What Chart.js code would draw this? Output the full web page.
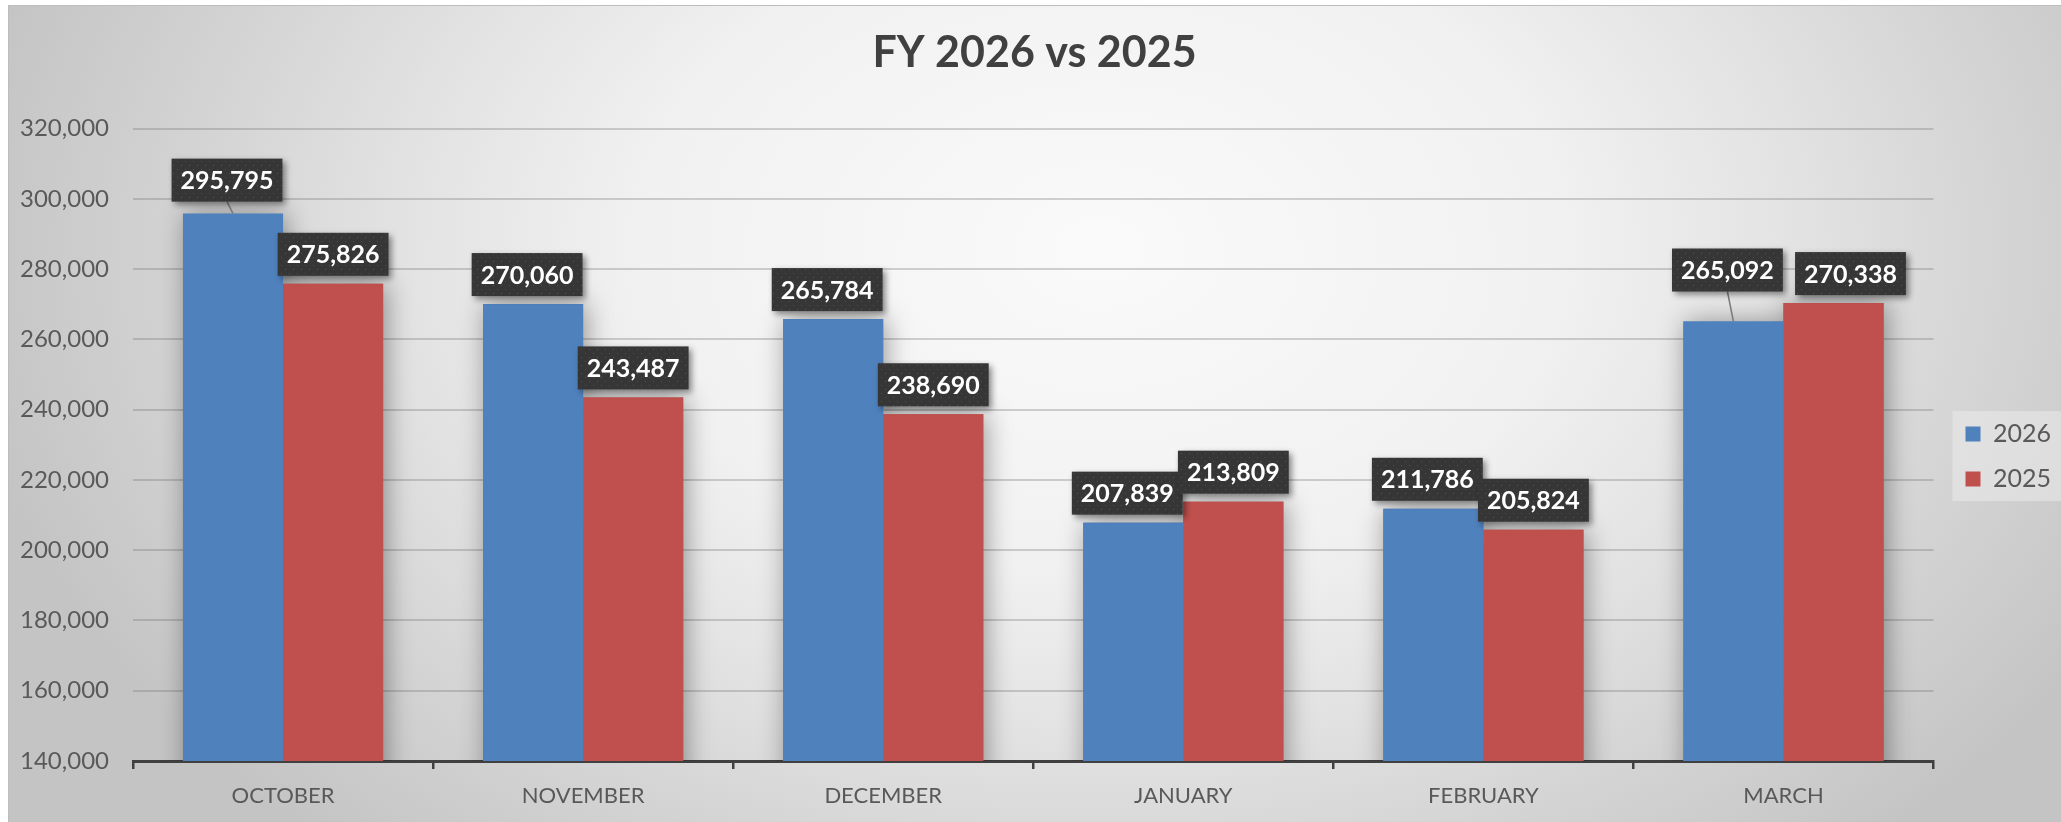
<!DOCTYPE html>
<html><head><meta charset="utf-8">
<script src="https://cdn.jsdelivr.net/npm/chart.js@4.4.1/dist/chart.umd.min.js"></script>
<style>html,body{margin:0;padding:0;background:#fff;overflow:hidden}#wrap{width:2061px;height:822px}</style>
</head><body><div id="wrap"><canvas id="c" width="2061" height="822"></canvas></div>
<script>
const categories = ['OCTOBER','NOVEMBER','DECEMBER','JANUARY','FEBRUARY','MARCH'];
const seriesNames = ['2026','2025'];
const values2026 = [295795,270060,265784,207839,211786,265092];
const values2025 = [275826,243487,238690,213809,205824,270338];
const yTickValues = [140000,160000,180000,200000,220000,240000,260000,280000,300000,320000];
const titleText = 'FY 2026 vs 2025';

const FONT = 'Lato';

// dotted pattern for label boxes
function makePattern(ctx){
  const p = document.createElement('canvas'); p.width = 8; p.height = 8;
  const g = p.getContext('2d');
  g.fillStyle = '#363636'; g.fillRect(0,0,8,8);
  g.fillStyle = 'rgba(255,255,255,0.13)';
  g.fillRect(1,1,1,1); g.fillRect(5,5,1,1);
  return ctx.createPattern(p,'repeat');
}

const bgPlugin = {
  id:'bg',
  beforeDraw(chart){
    const ctx = chart.ctx, W = chart.width, H = chart.height;
    ctx.save();
    ctx.fillStyle = '#fff'; ctx.fillRect(0,0,W,H);
    ctx.beginPath(); ctx.rect(8,5,W-8,H-5); ctx.clip();
    const cx = 1100, cy = 250, rx = 1150, ry = 800;
    ctx.translate(cx, cy); ctx.scale(1, ry/rx);
    const g = ctx.createRadialGradient(0,0,0,0,0,rx);
    g.addColorStop(0,'#fafafa'); g.addColorStop(0.4,'#f1f1f1'); g.addColorStop(0.6,'#e3e3e3');
    g.addColorStop(0.8,'#d3d3d3'); g.addColorStop(1,'#c4c4c4');
    ctx.fillStyle = g; ctx.fillRect(-3000,-3000,6000,6000);
    ctx.restore();
    ctx.save();
    ctx.strokeStyle = '#bdbdbd'; ctx.lineWidth = 1;
    ctx.strokeRect(8.5,5.5,W-8,H-5);
    // legend background
    const hb = chart.legend && chart.legend.legendHitBoxes;
    if (hb && hb.length){
      const first = hb[0], last = hb[hb.length-1];
      const top = first.top + first.height/2 - 23;
      const bottom = last.top + last.height/2 + 22;
      ctx.fillStyle = 'rgba(235,235,235,0.55)';
      ctx.fillRect(first.left - 13, top, W - (first.left - 13), bottom - top);
    }
    ctx.restore();
  }
};

const barShadowPlugin = {
  id:'barShadow',
  beforeDatasetsDraw(chart){
    const ctx = chart.ctx, a = chart.chartArea;
    ctx.save();
    ctx.beginPath(); ctx.rect(a.left, a.top - 40, a.right - a.left + 60, a.bottom - a.top + 40); ctx.clip();
    ctx.shadowColor = 'rgba(0,0,0,0.38)'; ctx.shadowBlur = 24; ctx.shadowOffsetX = 3; ctx.shadowOffsetY = 0;
    chart.data.datasets.forEach((ds, di) => {
      const meta = chart.getDatasetMeta(di);
      meta.data.forEach(el => {
        ctx.fillStyle = ds.backgroundColor;
        ctx.fillRect(el.x - el.width/2, el.y, el.width, el.base - el.y);
      });
    });
    ctx.restore();
  }
};

const valueBoxPlugin = {
  id:'valueBoxes',
  afterDatasetsDraw(chart, args, opts){
    const ctx = chart.ctx;
    if (!chart.$pattern) chart.$pattern = makePattern(ctx);
    ctx.save();
    ctx.font = `bold ${opts.size}px ${FONT}`;
    chart.data.datasets.forEach((ds, di) => {
      const meta = chart.getDatasetMeta(di);
      meta.data.forEach((bar, i) => {
        const text = ds.data[i].toLocaleString('en-US');
        const tw = ctx.measureText(text).width;
        const w = tw + 2*opts.padX, h = opts.height;
        const nd = (opts.nudges[di] && opts.nudges[di][i]) || [0,0];
        const cx = bar.x + opts.shift[di] + nd[0];
        const bottom = bar.y - opts.gap + nd[1];
        const top = bottom - h;
        if (bar.y - bottom > opts.gap + 2){
          ctx.save();
          ctx.strokeStyle = '#7a7a7a'; ctx.lineWidth = 1.5;
          ctx.beginPath(); ctx.moveTo(cx, bottom); ctx.lineTo(bar.x, bar.y); ctx.stroke();
          ctx.restore();
        }
        ctx.save();
        ctx.shadowColor = 'rgba(0,0,0,0.45)'; ctx.shadowBlur = 6; ctx.shadowOffsetX = 3; ctx.shadowOffsetY = 3;
        ctx.fillStyle = chart.$pattern;
        ctx.fillRect(cx - w/2, top, w, h);
        ctx.restore();
        ctx.fillStyle = '#ffffff'; ctx.textAlign = 'center'; ctx.textBaseline = 'middle';
        ctx.fillText(text, cx, top + h/2 + 1);
      });
    });
    ctx.restore();
  }
};

new Chart(document.getElementById('c'), {
  type:'bar',
  data:{
    labels: categories,
    datasets:[
      {label: seriesNames[0], data: values2026, backgroundColor:'#4f81bd', borderWidth:0},
      {label: seriesNames[1], data: values2025, backgroundColor:'#c0504d', borderWidth:0}
    ]
  },
  options:{
    responsive:false, animation:false, devicePixelRatio:1,
    layout:{padding:{top:5, left:8, right:0, bottom:0}},
    datasets:{bar:{categoryPercentage:0.667, barPercentage:1.0}},
    plugins:{
      title:{display:true, text:titleText, color:'#404040',
        font:{family:FONT, size:43, weight:'bold'}, padding:{top:22, bottom:50}},
      legend:{position:'right', align:'center',
        title:{display:true, text:' ', font:{size:1}, padding:{top:0, bottom:85}},
        labels:{boxWidth:15, boxHeight:15, color:'#595959', padding:20,
          font:{family:FONT, size:25}}},
      tooltip:{enabled:false},
      valueBoxes:{size:25, padX:9, height:43, gap:8, shift:[-6,0],
        nudges:{0:{0:[0,-4],5:[0,-22]}, 1:{5:[17,0]}}}
    },
    scales:{
      x:{
        grid:{display:true, drawOnChartArea:false, drawTicks:true, tickLength:8, color:'#404040', lineWidth:2.5, offset:true},
        border:{display:true, color:'#404040', width:3},
        ticks:{color:'#595959', font:{family:FONT, size:22}, padding:14},
        afterFit(s){ s.height = 61; }
      },
      y:{
        min: yTickValues[0], max: yTickValues[yTickValues.length-1],
        afterBuildTicks(s){ s.ticks = yTickValues.map(v => ({value:v})); },
        grid:{color:'rgba(110,110,110,0.3)', lineWidth:2, drawTicks:false},
        border:{display:false},
        ticks:{color:'#595959', font:{family:FONT, size:24}, padding:24,
          callback:v => Number(v).toLocaleString('en-US')},
        afterFit(s){ s.width = 125; }
      },
      gap:{
        type:'linear', position:'right', display:true,
        grid:{display:false}, border:{display:false}, ticks:{display:false},
        afterFit(s){ s.width = 12; }
      }
    }
  },
  plugins:[bgPlugin, barShadowPlugin, valueBoxPlugin]
});
</script></body></html>
